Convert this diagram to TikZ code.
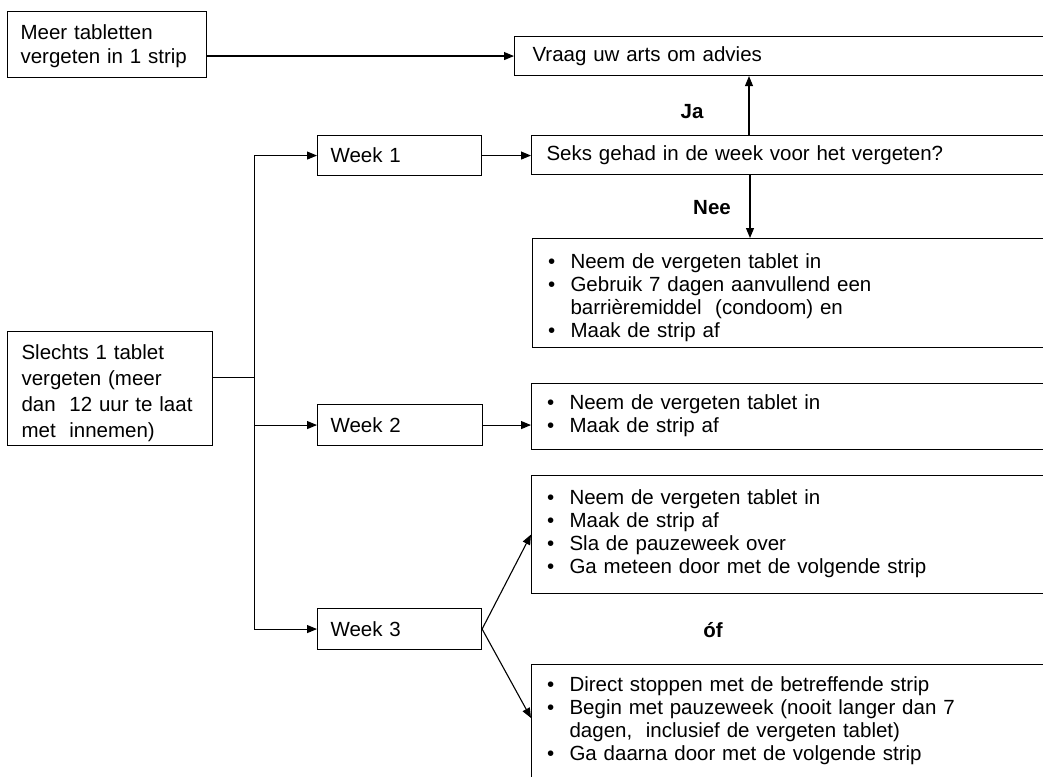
\documentclass[tikz,border=0pt]{standalone}
\usepackage{fontspec}
\setmainfont{Liberation Sans}
\usetikzlibrary{arrows.meta}
\usetikzlibrary{calc}
\newcommand{\itm}{\textbullet &}
\newcommand{\lift}[1]{\rule{0pt}{#1}}
\newenvironment{bullets}{\begin{tabular}{@{}p{22.5pt}@{}l@{}}}{\end{tabular}}

\begin{document}
\begin{tikzpicture}[x=1pt, y=-1pt, line width=1.1pt,
    font=\fontsize{20.5}{23}\selectfont,
    box/.style={draw, rectangle, anchor=north west, inner ysep=0pt, align=left},
    arr/.style={-{Triangle[length=10pt, width=8pt]}},
    lbl/.style={font=\bfseries\fontsize{20.5}{24}\selectfont}]
  \useasboundingbox (0,0) rectangle (1043,776);
  \clip (0,0) rectangle (1043,776);
  % left boxes
  \node[box, inner xsep=13pt, text width=173pt, minimum height=66pt,
    font=\fontsize{20.5}{24}\selectfont] (meer) at (7,11) {\lift{18pt}Meer tabletten\\vergeten in 1 strip};
  \node[box, inner xsep=14pt, text width=177pt, minimum height=114pt,
    font=\fontsize{20.5}{26}\selectfont] (slechts) at (7,331)
    {\lift{25pt}Slechts 1 tablet\\vergeten (meer\\dan\ \ 12 uur te laat\\met\ \ innemen)};
  % weeks
  \node[box, inner xsep=13pt, text width=138pt, minimum height=40pt] (week1) at (317,135) {Week 1};
  \node[box, inner xsep=13pt, text width=139pt, minimum height=41pt] (week2) at (317,404) {Week 2};
  \node[box, inner xsep=13pt, text width=138pt, minimum height=41pt] (week3) at (317,608) {Week 3};
  % right boxes
  \node[box, inner xsep=18pt, text width=510pt, minimum height=39pt] (vraag) at (514,36) {Vraag uw arts om advies};
  \node[box, inner xsep=15pt, text width=499pt, minimum height=39pt] (seks) at (531,135)
    {Seks gehad in de week voor het vergeten?};
  \node[box, inner xsep=15.5pt, text width=497pt, minimum height=109pt] (bul1) at (532,238)
    {\begin{bullets}
      \itm \lift{26pt}Neem de vergeten tablet in\\
      \itm Gebruik 7 dagen aanvullend een\\
      & barrièremiddel\ \ (condoom) en\\
      \itm Maak de strip af
    \end{bullets}};
  \node[box, inner xsep=15.5pt, text width=498pt, minimum height=66pt] (bul2) at (531,383)
    {\begin{bullets}
      \itm Neem de vergeten tablet in\\
      \itm Maak de strip af
    \end{bullets}};
  \node[box, inner xsep=15.5pt, text width=498pt, minimum height=118pt] (bul3) at (531,475)
    {\begin{bullets}
      \itm Neem de vergeten tablet in\\
      \itm Maak de strip af\\
      \itm Sla de pauzeweek over\\
      \itm Ga meteen door met de volgende strip
    \end{bullets}};
  \node[box, inner xsep=15.5pt, inner ysep=11pt, text width=498pt] (bul4) at (531,664)
    {\parbox[c][130pt][t]{498pt}{\begin{bullets}
      \itm Direct stoppen met de betreffende strip\\
      \itm Begin met pauzeweek (nooit langer dan 7\\
      & dagen,\ \ inclusief de vergeten tablet)\\
      \itm Ga daarna door met de volgende strip
    \end{bullets}}};
  % labels
  \node[lbl] (ja) at (692,112) {Ja};
  \node[lbl] (nee) at (712,208) {Nee};
  \node[lbl] (of) at (713,630) {óf};
  % connectors
  \draw[arr] (meer.east |- vraag.west) -- (vraag.west);
  \draw[arr] ([xshift=218pt]seks.north west) -- ([xshift=218pt]seks.north west |- vraag.south);
  \draw[arr] ([xshift=219pt]seks.south west) -- ([xshift=219pt]seks.south west |- bul1.north);
  \draw[arr] (week1.east) -- (week1.east -| seks.west);
  \draw[arr] (week2.east) -- (week2.east -| bul2.west);
  \draw[arr] (week3.east) -- (bul3.west);
  \draw[arr] (week3.east) -- ([yshift=-54pt]bul4.north west);
  \coordinate (fork) at ([xshift=41pt, yshift=11pt]slechts.east);
  \draw (slechts.east |- fork) -- (fork);
  \draw[arr] (fork) |- (week1.west);
  \draw[arr] (fork) |- (week2.west);
  \draw[arr] (fork) |- (week3.west);
\end{tikzpicture}
\end{document}
